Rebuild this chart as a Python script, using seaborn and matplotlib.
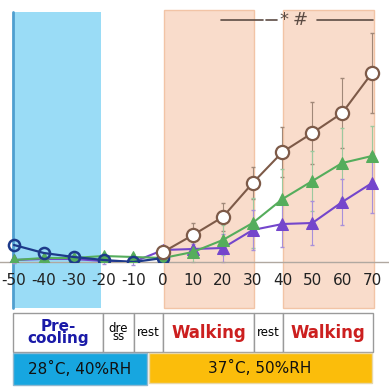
import numpy as np
import pandas as pd
import matplotlib
matplotlib.use('Agg')
import matplotlib.pyplot as plt
import matplotlib.transforms as mtransforms
from matplotlib.patches import Rectangle
import seaborn as sns

# time axis (min)
time = [-50, -40, -30, -20, -10, 0, 10, 20, 30, 40, 50, 60, 70]

# circles: pre-cooling part (navy) and exercise part (brown)
circ_pre_t = [-50, -40, -30, -20, -10, 0]
circ_pre = [0.17, 0.09, 0.05, 0.02, 0.00, 0.04]
circ_t = [0, 10, 20, 30, 40, 50, 60, 70]
circ = [0.10, 0.27, 0.45, 0.79, 1.10, 1.29, 1.49, 1.89]
circ_err = [0.03, 0.12, 0.14, 0.16, 0.25, 0.31, 0.35, 0.40]

# green triangles
green = [0.02, 0.04, 0.04, 0.06, 0.05, 0.04, 0.10, 0.22, 0.39, 0.63, 0.81, 0.99, 1.06]
green_err = [0.03, 0.03, 0.03, 0.03, 0.03, 0.03, 0.10, 0.15, 0.25, 0.30, 0.30, 0.35, 0.30]

# purple triangles
purple = [0.02, 0.03, 0.03, 0.01, 0.00, 0.12, 0.13, 0.14, 0.32, 0.38, 0.39, 0.60, 0.79]
purple_err = [0.03, 0.03, 0.03, 0.03, 0.03, 0.05, 0.05, 0.14, 0.20, 0.23, 0.22, 0.23, 0.30]

# phases
precool = (-50.5, -21)
walk_spans = [(0.2, 30.6), (40.2, 70.6)]

# table texts
row1_labels = ['Pre-\ncooling', 'dre\nss', 'rest', 'Walking', 'rest', 'Walking']
row2_labels = ['28˚C, 40%RH', '37˚C, 50%RH']

fig = plt.figure(figsize=(3.89, 3.87), dpi=100)
ax = fig.add_axes([0, 1 - 262 / 387, 1, 262 / 387])
sns.set_style('white')

# shaded phases
ext_lo = -46 / 262
r = ax.axvspan(*precool, ymin=ext_lo, ymax=(262 - 12) / 262, color='#9adcf6', zorder=0.5, lw=0)
r.set_clip_on(False)
ax.plot([precool[0]] * 2, [ext_lo, (262 - 12) / 262], color='#4f9fcf', lw=2,
        transform=mtransforms.blended_transform_factory(ax.transData, ax.transAxes),
        clip_on=False, zorder=0.6)
for a, b in walk_spans:
    r = ax.axvspan(a, b, ymin=ext_lo, ymax=(262 - 10) / 262, facecolor='#f9dccb',
                   edgecolor='#f2c4a6', lw=1, zorder=0.5)
    r.set_clip_on(False)

df_c = pd.DataFrame({'t': circ_t, 'v': circ})
df_cp = pd.DataFrame({'t': circ_pre_t, 'v': circ_pre})
df_g = pd.DataFrame({'t': time, 'v': green})
df_p = pd.DataFrame({'t': time, 'v': purple})

# error bars
ax.errorbar(circ_t, circ, yerr=circ_err, fmt='none', ecolor='#a08878', elinewidth=0.8,
            capsize=1.5, clip_on=False, zorder=2)
ax.errorbar(time, green, yerr=green_err, fmt='none', ecolor='#9cc99f', elinewidth=0.8,
            capsize=1.5, clip_on=False, zorder=2)
ax.errorbar(time, purple, yerr=purple_err, fmt='none', ecolor='#a890da', elinewidth=0.8,
            capsize=1.5, clip_on=False, zorder=2)

sns.lineplot(data=df_p, x='t', y='v', ax=ax, color='#7446cc', marker='^', markersize=8,
             markeredgecolor='#7446cc', lw=1.5, zorder=3)
sns.lineplot(data=df_g, x='t', y='v', ax=ax, color='#55ad5c', marker='^', markersize=8,
             markeredgecolor='#55ad5c', lw=1.5, zorder=4)
sns.lineplot(data=df_cp, x='t', y='v', ax=ax, color='#1d3a8a', marker='o', markersize=8,
             markerfacecolor='none', markeredgecolor='#1d3a8a', markeredgewidth=1.8, lw=1.6, zorder=5)
sns.lineplot(data=df_c, x='t', y='v', ax=ax, color='#7d5a48', marker='o', markersize=9.5,
             markerfacecolor='white', markeredgecolor='#7d5a48', markeredgewidth=1.6, lw=1.5, zorder=5)

ax.set_xlim(-50 - 14 / 2.983, 70 + 17 / 2.983)
ax.set_ylim(0, 2.62)
ax.set_xticks(time)
ax.set_xticklabels([str(t) for t in time])
ax.set_yticks([])
ax.set_xlabel('')
ax.set_ylabel('')
ax.tick_params(axis='x', length=0, pad=8, labelsize=11, labelcolor='#222222')
for s in ['top', 'right', 'left']:
    ax.spines[s].set_visible(False)
ax.spines['bottom'].set_color('#b0a8a0')
ax.spines['bottom'].set_linewidth(1)
ax.patch.set_alpha(0)

# significance bar
tr = mtransforms.blended_transform_factory(ax.transData, ax.transAxes)
yb = (262 - 20) / 262
ax.plot([19.5, 33.5], [yb, yb], color='#5c4c44', lw=1.2, transform=tr, clip_on=False)
ax.plot([34.5, 38.0], [yb, yb], color='#5c4c44', lw=1.2, transform=tr, clip_on=False)
ax.plot([51.5, 70.3], [yb, yb], color='#5c4c44', lw=1.2, transform=tr, clip_on=False)
ax.text(40.5, yb, '*', transform=tr, ha='center', va='center', fontsize=13, color='#5c4c44')
ax.text(46.0, yb, '#', transform=tr, ha='center', va='center', fontsize=13, color='#5c4c44')

# protocol table
tab = fig.add_axes([0, 0, 1, 1], zorder=-1)
tab.set_xlim(0, 389)
tab.set_ylim(387, 0)
tab.axis('off')

edges = [13, 103, 134, 163, 254, 283, 373]
colors1 = ['#1a1aa8', 'black', 'black', '#cc1f1f', 'black', '#cc1f1f']
sizes1 = [11, 8.5, 8.5, 12, 8.5, 12]
weights1 = ['bold', 'normal', 'normal', 'bold', 'normal', 'bold']
spacing1 = [0.8, 0.6, 1, 1, 1, 1]
for i, lab in enumerate(row1_labels):
    x0, x1 = edges[i], edges[i + 1]
    tab.add_patch(Rectangle((x0, 313), x1 - x0, 39, facecolor='white', edgecolor='#9a9a9a', lw=1))
    tab.text((x0 + x1) / 2, 332.5, lab, ha='center', va='center', fontsize=sizes1[i],
             color=colors1[i], fontweight=weights1[i], linespacing=spacing1[i])

tab.add_patch(Rectangle((13, 353), 134, 32, facecolor='#17a6e0', edgecolor='#8fb8d0', lw=1))
tab.add_patch(Rectangle((149, 353), 223, 30, facecolor='#fbbd0b', edgecolor='#e8d7a8', lw=1))
tab.text(80, 369, row2_labels[0], ha='center', va='center', fontsize=11, color='#111111')
tab.text(260, 368, row2_labels[1], ha='center', va='center', fontsize=11, color='#111111')

fig.savefig('out.png', dpi=100)
